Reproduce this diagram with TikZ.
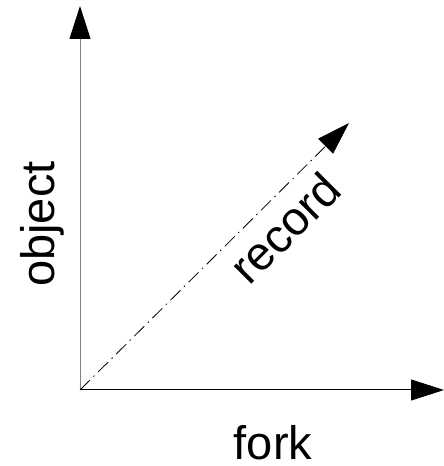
\documentclass[tikz,border=0pt]{standalone}
\usepackage{fontspec}
\setmainfont{Liberation Sans}
\usetikzlibrary{arrows.meta}
\begin{document}
\begin{tikzpicture}[x=1pt,y=1pt,
  axis/.style={line width=1pt,-{Triangle[length=33pt,width=21pt,black]}},
  lbl/.style={font=\fontsize{47}{50}\selectfont,inner sep=0pt}]
\useasboundingbox (0,0) rectangle (444,466);
\coordinate (o) at (80,76);
\coordinate (ytip) at (80,460);
\coordinate (xtip) at (444,76);
\coordinate (dtip) at (349,343);
\draw[axis,draw=gray] (o) -- (ytip);
\draw[axis] (o) -- (xtip);
\draw[axis,line width=0.8pt,dash pattern=on 14pt off 5pt on 1.5pt off 5pt] (o) -- (dtip);
\node[lbl,rotate=90] (obj) at (42,242) {object};
\node[lbl,anchor=base] (fork) at (273,6) {fork};
\node[lbl,rotate=45] (rec) at (285,238) {record};
\end{tikzpicture}
\end{document}
